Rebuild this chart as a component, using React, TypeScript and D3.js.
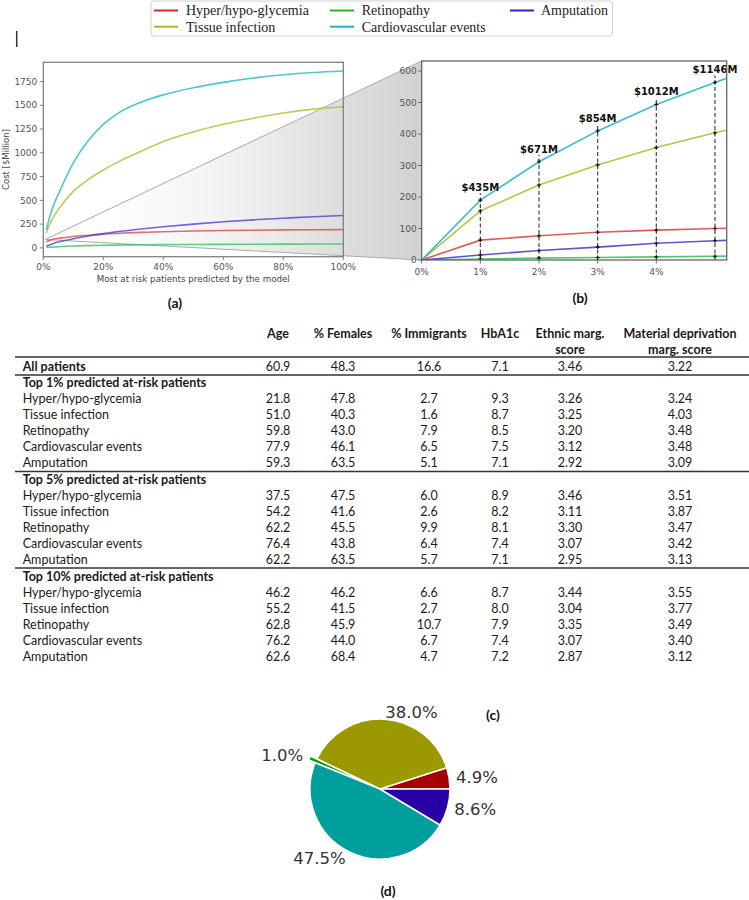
import React from 'react';
import * as d3 from 'd3';

// ---------- data ----------
const seriesNames = ['Hyper/hypo-glycemia', 'Tissue infection', 'Retinopathy', 'Cardiovascular events', 'Amputation'];
const legendColors = ['#d42a2a', '#b5b51e', '#22bb22', '#1fb5c0', '#2f22c8'];
const lineColors = ['#d84a4a', '#b8b830', '#3cc45a', '#22b8c4', '#5040cc'];

// panel (a): share of most at-risk patients (%) vs cumulative cost ($M)
const aPct = [1, 2, 3, 4, 5, 10, 15, 20, 25, 30, 35, 40, 50, 60, 70, 80, 90, 100];
const aHyper = [63, 77, 88, 95, 100, 120, 133, 145, 153, 160, 165, 170, 177, 182, 186, 189, 191, 192];
const aTissue = [156, 238, 302, 357, 404, 595, 720, 820, 905, 980, 1052, 1120, 1220, 1300, 1365, 1420, 1460, 1485];
const aRetino = [3, 6, 8, 10, 12, 20, 24, 27, 29, 31, 33, 34, 36, 37, 38, 39, 40, 40];
const aCardio = [190, 312, 410, 494, 564, 894, 1130, 1300, 1418, 1500, 1562, 1610, 1685, 1742, 1788, 1822, 1846, 1862];
const aAmput = [16, 30, 41, 53, 61, 95, 125, 150, 172, 190, 207, 222, 250, 275, 295, 312, 328, 340];

// panel (b): zoom on top percents
const bPct = [0, 1, 2, 3, 4, 5, 6];
const bHyper = [0, 63, 77, 88, 95, 100, 105];
const bTissue = [0, 156, 238, 302, 357, 404, 448];
const bRetino = [0, 3, 6, 8, 10, 12, 14];
const bCardio = [0, 190, 312, 410, 494, 564, 630];
const bAmput = [0, 16, 30, 41, 53, 61, 68];
const totalPct = [1, 2, 3, 4, 5];
const totalLabels = ['$435M', '$671M', '$854M', '$1012M', '$1146M'];

const aYTicks = [0, 250, 500, 750, 1000, 1250, 1500, 1750];
const aXTicks = [0, 20, 40, 60, 80, 100];
const bYTicks = [0, 100, 200, 300, 400, 500, 600];
const bXTicks = [0, 1, 2, 3, 4];

// zoom connector anchor in panel (a) data units (pct, $M)
const insetAnchor = [0.6, 88];

// panel (c): table
const headerLine1 = ['Age', '% Females', '% Immigrants', 'HbA1c', 'Ethnic marg.', 'Material deprivation'];
const headerLine2 = ['', '', '', '', 'score', 'marg. score'];
const allPatients = ['60.9', '48.3', '16.6', '7.1', '3.46', '3.22'];
const groupTitles = ['Top 1% predicted at-risk patients', 'Top 5% predicted at-risk patients', 'Top 10% predicted at-risk patients'];
const top1 = [
  ['21.8', '47.8', '2.7', '9.3', '3.26', '3.24'],
  ['51.0', '40.3', '1.6', '8.7', '3.25', '4.03'],
  ['59.8', '43.0', '7.9', '8.5', '3.20', '3.48'],
  ['77.9', '46.1', '6.5', '7.5', '3.12', '3.48'],
  ['59.3', '63.5', '5.1', '7.1', '2.92', '3.09'],
];
const top5 = [
  ['37.5', '47.5', '6.0', '8.9', '3.46', '3.51'],
  ['54.2', '41.6', '2.6', '8.2', '3.11', '3.87'],
  ['62.2', '45.5', '9.9', '8.1', '3.30', '3.47'],
  ['76.4', '43.8', '6.4', '7.4', '3.07', '3.42'],
  ['62.2', '63.5', '5.7', '7.1', '2.95', '3.13'],
];
const top10 = [
  ['46.2', '46.2', '6.6', '8.7', '3.44', '3.55'],
  ['55.2', '41.5', '2.7', '8.0', '3.04', '3.77'],
  ['62.8', '45.9', '10.7', '7.9', '3.35', '3.49'],
  ['76.2', '44.0', '6.7', '7.4', '3.07', '3.40'],
  ['62.6', '68.4', '4.7', '7.2', '2.87', '3.12'],
];

// panel (d): pie
const pieValues = [4.9, 38.0, 1.0, 47.5, 8.6];
const pieColors = ['#a60000', '#9a9a00', '#00a400', '#009e9c', '#2800a6'];
const pieExplode = [0, 0, 0.1, 0, 0];

// ---------- layout ----------
const W = 749, H = 900;
const A = { l: 43.3, r: 343.3, t: 62.3, b: 256.7 };
const B = { l: 421.7, r: 726.7, t: 61, b: 260 };
const tickFont = 'DejaVu Sans, sans-serif';
const tableFont = 'Lato, sans-serif';

export default function App() {
  const xA = d3.scaleLinear().domain([0, 100]).range([A.l, A.r]);
  const yA = d3.scaleLinear().domain([-93, 1953]).range([A.b, A.t]);
  const xB = d3.scaleLinear().domain([0, 5.2]).range([B.l, B.r]);
  const yB = d3.scaleLinear().domain([0, 632]).range([B.b, B.t]);

  const aSeries = [aHyper, aTissue, aRetino, aCardio, aAmput];
  const bSeries = [bHyper, bTissue, bRetino, bCardio, bAmput];
  const lineA = (vals: number[]) =>
    d3.line<number>().x((_, i) => xA(aPct[i])).y((v) => yA(v)).curve(d3.curveMonotoneX)(vals) || '';
  const lineB = (vals: number[]) =>
    d3.line<number>().x((_, i) => xB(bPct[i])).y((v) => yB(v))(vals) || '';

  // connector polygon
  const px = xA(insetAnchor[0]);
  const py = yA(insetAnchor[1]);

  // table
  const colX = d3.scaleOrdinal<string, number>().domain(headerLine1).range([278, 343, 429, 500, 570, 680]);
  type Row = { label: string; vals?: string[]; bold: boolean; y: number };
  const rows: Row[] = [];
  let y = 367;
  rows.push({ label: 'All patients', vals: allPatients, bold: true, y });
  const groups = [top1, top5, top10];
  groups.forEach((g, gi) => {
    y += 16 + (gi > 0 ? 1 : 0);
    rows.push({ label: groupTitles[gi], bold: true, y });
    g.forEach((vals, ri) => {
      y += 16;
      rows.push({ label: seriesNames[ri], vals, bold: false, y });
    });
  });
  const rules = [357, 375, 471.5, 568];

  // pie
  const pc = { x: 380, y: 789 };
  const R = 70;
  const arcs = d3
    .pie<number>()
    .sort(null)
    .startAngle(Math.PI / 2)
    .endAngle(Math.PI / 2 - 2 * Math.PI)(pieValues);
  const arcGen = d3.arc<d3.PieArcDatum<number>>().innerRadius(0).outerRadius(R);

  return (
    <svg width={W} height={H} style={{ position: 'absolute', left: 0, top: 0, background: '#fff' }}>
      <defs>
        <clipPath id="clipA">
          <rect x={A.l} y={A.t} width={A.r - A.l} height={A.b - A.t} />
        </clipPath>
        <clipPath id="clipB">
          <rect x={B.l} y={B.t} width={B.r - B.l} height={B.b - B.t} />
        </clipPath>
        <linearGradient id="shade" gradientUnits="userSpaceOnUse" x1={px} y1={0} x2={B.l} y2={0}>
          <stop offset="0" stopColor="#ffffff" stopOpacity={0.1} />
          <stop offset="0.75" stopColor="#d8d8d8" stopOpacity={0.8} />
          <stop offset="1" stopColor="#cfcfcf" stopOpacity={0.95} />
        </linearGradient>
      </defs>

      {/* cursor mark */}
      <line x1={16.7} x2={16.7} y1={31} y2={47} stroke="#333" strokeWidth={1.5} />

      {/* legend */}
      <rect x={151} y={1} width={461.5} height={35} rx={3} fill="#fff" stroke="#d0d0d0" />
      {seriesNames.map((n, i) => {
        const col = Math.floor(i / 2);
        const row = i % 2;
        const lx = [154, 330, 510][col];
        const tx = [186, 361.7, 541][col];
        const ly = [10.5, 26.7][row];
        return (
          <g key={n}>
            <line x1={lx} x2={lx + 24} y1={ly} y2={ly} stroke={legendColors[i]} strokeWidth={2} />
            <text x={tx} y={ly} dy="0.35em" fontFamily="Liberation Serif, serif" fontSize={14} fill="#222">
              {n}
            </text>
          </g>
        );
      })}

      {/* panel (a) */}
      <rect x={A.l} y={A.t} width={A.r - A.l} height={A.b - A.t} fill="#fff" />

      {/* zoom connector (shade behind curves) */}
      <path d={`M${px},${py}L${B.l},${B.t}L${B.l},${B.b}Z`} fill="url(#shade)" stroke="none" />
      <line x1={px} y1={py} x2={B.l} y2={B.t} stroke="#aaa" strokeWidth={1} />
      <line x1={px} y1={py} x2={B.l} y2={B.b} stroke="#aaa" strokeWidth={1} />

      <g clipPath="url(#clipA)">
        {aSeries.map((s, i) => (
          <path key={i} d={lineA(s)} fill="none" stroke={lineColors[i]} strokeWidth={1.6} strokeOpacity={0.8} />
        ))}
      </g>

      <rect x={A.l} y={A.t} width={A.r - A.l} height={A.b - A.t} fill="none" stroke="#808080" strokeWidth={1.3} />
      {aYTicks.map((t) => (
        <g key={t}>
          <line x1={A.l - 3.5} x2={A.l} y1={yA(t)} y2={yA(t)} stroke="#808080" />
          <text x={A.l - 6} y={yA(t)} dy="0.35em" textAnchor="end" fontFamily={tickFont} fontSize={9} fill="#555">
            {t}
          </text>
        </g>
      ))}
      {aXTicks.map((t) => (
        <g key={t}>
          <line x1={xA(t)} x2={xA(t)} y1={A.b} y2={A.b + 3.5} stroke="#808080" />
          <text x={xA(t)} y={A.b + 10} dy="0.35em" textAnchor="middle" fontFamily={tickFont} fontSize={9} fill="#555">
            {t}%
          </text>
        </g>
      ))}
      <text x={(A.l + A.r) / 2} y={279} dy="0.35em" textAnchor="middle" fontFamily={tickFont} fontSize={8.7} fill="#444">
        Most at risk patients predicted by the model
      </text>
      <text
        transform={`translate(6,${(A.t + A.b) / 2}) rotate(-90)`}
        dy="0.35em"
        textAnchor="middle"
        fontFamily={tickFont}
        fontSize={8.5}
        fill="#444"
      >
        Cost [$Million]
      </text>
      <text x={175} y={303} dy="0.35em" textAnchor="middle" fontFamily={tableFont} fontWeight="bold" fontSize={14} fill="#111">
        (a)
      </text>

      {/* panel (b) */}
      <rect x={B.l} y={B.t} width={B.r - B.l} height={B.b - B.t} fill="#fff" />
      <g clipPath="url(#clipB)">
        {totalPct.map((p) => (
          <line
            key={p}
            x1={xB(p)}
            x2={xB(p)}
            y1={yB(0)}
            y2={yB(bCardio[bPct.indexOf(p)] + 22)}
            stroke="#444"
            strokeWidth={1.2}
            strokeDasharray="4,2.5"
          />
        ))}
        {bSeries.map((s, i) => (
          <path key={i} d={lineB(s)} fill="none" stroke={lineColors[i]} strokeWidth={1.6} strokeOpacity={0.9} />
        ))}
        {bSeries.map((s, i) =>
          totalPct.map((p) => {
            const cx = xB(p);
            const cy = yB(s[bPct.indexOf(p)]);
            return (
              <path key={`${i}-${p}`} d={`M${cx - 2},${cy}H${cx + 2}M${cx},${cy - 2}V${cy + 2}`} stroke="#111" strokeWidth={1.1} />
            );
          })
        )}
      </g>
      {totalPct.map((p, i) => (
        <text
          key={p}
          x={xB(p)}
          y={yB(bCardio[bPct.indexOf(p)] + 40)}
          dy="0.35em"
          textAnchor="middle"
          fontFamily={tickFont}
          fontWeight="bold"
          fontSize={10}
          fill="#111"
        >
          {totalLabels[i]}
        </text>
      ))}
      <rect x={B.l} y={B.t} width={B.r - B.l} height={B.b - B.t} fill="none" stroke="#666" strokeWidth={1.3} />
      {bYTicks.map((t) => (
        <g key={t}>
          <line x1={B.l - 3.5} x2={B.l} y1={yB(t)} y2={yB(t)} stroke="#666" />
          <text x={B.l - 5} y={yB(t)} dy="0.35em" textAnchor="end" fontFamily={tickFont} fontSize={9} fill="#555">
            {t}
          </text>
        </g>
      ))}
      {bXTicks.map((t) => (
        <g key={t}>
          <line x1={xB(t)} x2={xB(t)} y1={B.b} y2={B.b + 3.5} stroke="#666" />
          <text x={xB(t)} y={B.b + 11.5} dy="0.35em" textAnchor="middle" fontFamily={tickFont} fontSize={9} fill="#555">
            {t}%
          </text>
        </g>
      ))}
      <text x={580} y={298} dy="0.35em" textAnchor="middle" fontFamily={tableFont} fontWeight="bold" fontSize={14} fill="#111">
        (b)
      </text>

      {/* panel (c): table */}
      <g fontFamily={tableFont} fontSize={12.5} fill="#1a1a1a">
        {headerLine1.map((h, i) => (
          <g key={h}>
            <text x={colX(h)} y={333.5} dy="0.35em" textAnchor="middle" fontWeight="bold">
              {h}
            </text>
            {headerLine2[i] && (
              <text x={colX(h)} y={349.5} dy="0.35em" textAnchor="middle" fontWeight="bold">
                {headerLine2[i]}
              </text>
            )}
          </g>
        ))}
        {rules.map((r) => (
          <line key={r} x1={15} x2={W} y1={r} y2={r} stroke="#333" strokeWidth={1.4} />
        ))}
        {rows.map((r, ri) => (
          <g key={ri}>
            <text x={22.7} y={r.y} dy="0.35em" fontWeight={r.bold ? 'bold' : 'normal'}>
              {r.label}
            </text>
            {r.vals &&
              r.vals.map((v, ci) => (
                <text key={ci} x={colX(headerLine1[ci])} y={r.y} dy="0.35em" textAnchor="middle">
                  {v}
                </text>
              ))}
          </g>
        ))}
      </g>
      <text x={493} y={715} dy="0.35em" textAnchor="middle" fontFamily={tableFont} fontWeight="bold" fontSize={14} fill="#111">
        (c)
      </text>

      {/* panel (d): pie */}
      {arcs.map((a, i) => {
        const mid = (a.startAngle + a.endAngle) / 2;
        const dx = Math.sin(mid);
        const dy = -Math.cos(mid);
        const off = pieExplode[i] * R;
        const cx = pc.x + dx * off;
        const cy = pc.y + dy * off;
        const lx = cx + dx * R * 1.1;
        const ly = cy + dy * R * 1.1;
        return (
          <g key={i}>
            <path d={arcGen(a) || ''} transform={`translate(${cx},${cy})`} fill={pieColors[i]} stroke="#fff" strokeWidth={1.5} />
            <text
              x={lx}
              y={ly}
              dy="0.35em"
              textAnchor={dx >= 0 ? 'start' : 'end'}
              fontFamily={tickFont}
              fontSize={16.5}
              fill="#333"
            >
              {pieValues[i].toFixed(1)}%
            </text>
          </g>
        );
      })}
      <text x={388} y={891} dy="0.35em" textAnchor="middle" fontFamily={tableFont} fontWeight="bold" fontSize={14} fill="#111">
        (d)
      </text>
    </svg>
  );
}
